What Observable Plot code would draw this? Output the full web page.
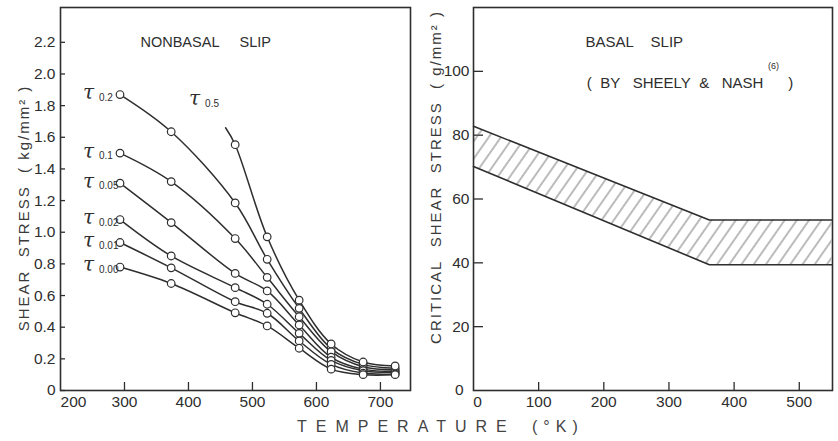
<!DOCTYPE html>
<html>
<head>
<meta charset="utf-8">
<script src="https://cdn.jsdelivr.net/npm/d3@7"></script>
<script src="https://cdn.jsdelivr.net/npm/@observablehq/plot@0.6"></script>
<style>
  body { margin: 0; background: #fff; }
  #wrap { position: relative; width: 838px; height: 441px; overflow: hidden;
          font-family: "Liberation Sans", Arial, sans-serif; color: #333; }
  #left { position: absolute; left: 0; top: 0; }
  #right { position: absolute; left: 420px; top: 0; }
  .ytitle { position: absolute; white-space: nowrap; font-size: 15px; letter-spacing: 2px;
            font-family: "Liberation Sans Narrow", "Liberation Sans", Arial, sans-serif;
            transform: translate(-50%, -50%) rotate(-90deg); color: #3a3a3a; }
  .xt { position: absolute; top: 418px; font-size: 16px; white-space: nowrap; color: #444; }
</style>
</head>
<body>
<div id="wrap">
  <div id="left"></div>
  <div id="right"></div>
  <div class="ytitle" style="left:23px; top:208px;">SHEAR&nbsp; STRESS&nbsp; (&nbsp;kg/mm²&nbsp;)</div>
  <div class="ytitle" style="left:435px; top:177px;">CRITICAL&nbsp; SHEAR&nbsp; STRESS&nbsp; (&nbsp;g/mm²&nbsp;)</div>
  <span class="xt" style="left:297px; letter-spacing:9px;">TEMPERATURE</span>
  <span class="xt" style="left:532px; letter-spacing:6px;">(°K)</span>
</div>
<script>
// ---------- Left panel: nonbasal slip (kg/mm²) ----------
const temps = [293, 373, 473, 523, 573, 623, 673, 723];
const tau02  = [1.87, 1.635, 1.185, 0.829, 0.519, 0.265, 0.165, 0.14];
const tau01  = [1.50, 1.32, 0.96, 0.715, 0.466, 0.245, 0.15, 0.13];
const tau005 = [1.31, 1.061, 0.74, 0.629, 0.414, 0.21, 0.135, 0.12];
const tau002 = [1.08, 0.85, 0.65, 0.545, 0.361, 0.19, 0.125, 0.115];
const tau001 = [0.935, 0.775, 0.561, 0.488, 0.313, 0.165, 0.11, 0.105];
const tau000 = [0.78, 0.676, 0.491, 0.408, 0.267, 0.135, 0.10, 0.10];
const seriesSubs = ["0.2", "0.1", "0.05", "0.02", "0.01", "0.00"];

const tau05Temps = [458, 473, 523, 573, 623, 673, 723];
const tau05 = [1.66, 1.553, 0.971, 0.571, 0.294, 0.18, 0.155];
const tau05Circle = [false, true, true, true, true, true, true];
const tau05Label = {t: 401, v: 1.83, sub: "0.5"};

const leftYTicks = [0, 0.2, 0.4, 0.6, 0.8, 1.0, 1.2, 1.4, 1.6, 1.8, 2.0, 2.2];
const leftXTicks = [200, 300, 400, 500, 600, 700];
const leftTitle = {t: 325, v: 2.2, text: "NONBASAL\u00a0\u00a0\u00a0\u00a0\u00a0SLIP"};

// ---------- Right panel: basal slip (g/mm²), Sheely & Nash ----------
const basalTemps = [0, 362, 550];
const basalUpper = [82.8, 53.4, 53.4];
const basalLower = [70.2, 39.4, 39.4];
const rightYTicks = [0, 20, 40, 60, 80, 100];
const rightXTicks = [0, 100, 200, 300, 400, 500];
const rightTitle = {t: 172, v: 109, text: "BASAL\u00a0\u00a0\u00a0\u00a0SLIP"};
const rightSource = {t: 174, v: 96.2, text: "(\u00a0\u00a0BY\u00a0\u00a0\u00a0SHEELY\u00a0\u00a0&\u00a0\u00a0\u00a0NASH"};
const rightRef = {t: 452, v: 101.5, text: "(6)"};
const rightClose = {t: 483, v: 96.2, text: ")"};

const ink = "#2e2e2e";
const tickFont = '"Liberation Sans Narrow", "Liberation Sans", Arial, sans-serif';
const textFont = '"Liberation Sans", Arial, sans-serif';

const allSeries = [tau02, tau01, tau005, tau002, tau001, tau000];
const lineData = [];
allSeries.forEach((vals, k) => temps.forEach((t, i) => lineData.push({s: seriesSubs[k], t, v: vals[i]})));
tau05Temps.forEach((t, i) => lineData.push({s: "0.5", t, v: tau05[i], circle: tau05Circle[i]}));
const dotData = lineData.filter(d => d.circle !== false);
const firsts = allSeries.map((vals, k) => ({s: seriesSubs[k], t: temps[0], v: vals[0]}));

const fmtL = d => d === 0 ? "0" : d.toFixed(1);

const leftPlot = Plot.plot({
  width: 420, height: 414,
  marginLeft: 60, marginRight: 10, marginTop: 7, marginBottom: 24,
  x: {domain: [200, 747]},
  y: {domain: [0, 2.42]},
  style: {fontSize: "15.5px", fontFamily: tickFont, color: ink, background: "white"},
  marks: [
    Plot.axisY(leftYTicks, {tickSize: 5, insetLeft: 5, tickPadding: 5, tickFormat: fmtL, label: null, strokeWidth: 1.3}),
    Plot.axisX(leftXTicks.slice(1), {tickSize: 8, insetBottom: 8, tickPadding: 5, label: null, strokeWidth: 1.3}),
    Plot.axisX(leftXTicks.slice(0, 1), {tickSize: 0, tickPadding: 5, dx: 13, label: null}),
    Plot.line(lineData, {x: "t", y: "v", z: "s", curve: "catmull-rom", stroke: ink, strokeWidth: 1.5}),
    Plot.dot(dotData, {x: "t", y: "v", r: 3.8, fill: "white", stroke: ink, strokeWidth: 1.2}),
    Plot.text(firsts, {x: "t", y: "v", text: () => "τ", dx: -37, dy: -2, textAnchor: "start",
      fontSize: 20, fontStyle: "italic", fontFamily: "DejaVu Serif", fill: ink}),
    Plot.text(firsts, {x: "t", y: "v", text: "s", dx: -21, dy: 3, textAnchor: "start", fontSize: 10, fontFamily: textFont, fill: ink}),
    Plot.text([tau05Label], {x: "t", y: "v", text: () => "τ", dy: -2, textAnchor: "start",
      fontSize: 20, fontStyle: "italic", fontFamily: "DejaVu Serif", fill: ink}),
    Plot.text([tau05Label], {x: "t", y: "v", text: "sub", dx: 16, dy: 3, textAnchor: "start", fontSize: 10, fontFamily: textFont, fill: ink}),
    Plot.text([leftTitle], {x: "t", y: "v", text: "text", textAnchor: "start", fontSize: 14.5, fontFamily: textFont, fill: ink}),
    Plot.frame({stroke: ink, strokeWidth: 1.6})
  ]
});
document.getElementById("left").appendChild(leftPlot);

const basal = basalTemps.map((t, i) => ({t, hi: basalUpper[i], lo: basalLower[i]}));

const rightPlot = Plot.plot({
  width: 418, height: 414,
  marginLeft: 53, marginRight: 6, marginTop: 7, marginBottom: 24,
  x: {domain: [0, 551]},
  y: {domain: [0, 120]},
  style: {fontSize: "15.5px", fontFamily: tickFont, color: ink, background: "white"},
  marks: [
    Plot.axisY(rightYTicks.slice(1), {tickSize: 10, insetLeft: 10, tickPadding: 4, label: null, strokeWidth: 1.3}),
    Plot.axisY(rightYTicks.slice(0, 1), {tickSize: 0, tickPadding: 4, dx: -6, label: null}),
    Plot.axisX(rightXTicks.slice(1), {tickSize: 8, insetBottom: 8, tickPadding: 5, label: null, strokeWidth: 1.3}),
    Plot.axisX(rightXTicks.slice(0, 1), {tickSize: 0, tickPadding: 5, dx: 4, label: null}),
    Plot.areaY(basal, {x: "t", y1: "lo", y2: "hi", fill: "url(#hatch)"}),
    Plot.line(basal, {x: "t", y: "hi", stroke: ink, strokeWidth: 1.6}),
    Plot.line(basal, {x: "t", y: "lo", stroke: ink, strokeWidth: 1.6}),
    Plot.text([rightTitle, rightSource, rightClose], {x: "t", y: "v", text: "text", textAnchor: "start", fontSize: 15, fontFamily: textFont, fill: ink}),
    Plot.text([rightRef], {x: "t", y: "v", text: "text", textAnchor: "start", fontSize: 9, fontFamily: textFont, fill: ink}),
    Plot.frame({stroke: ink, strokeWidth: 1.6})
  ]
});
const defs = d3.select(rightPlot).insert("defs", ":first-child");
const pat = defs.append("pattern").attr("id", "hatch").attr("patternUnits", "userSpaceOnUse")
  .attr("width", 10).attr("height", 10).attr("patternTransform", "rotate(35)");
pat.append("line").attr("x1", 5).attr("y1", 0).attr("x2", 5).attr("y2", 10)
  .attr("stroke", "#555").attr("stroke-width", 0.8);
document.getElementById("right").appendChild(rightPlot);
</script>
</body>
</html>
